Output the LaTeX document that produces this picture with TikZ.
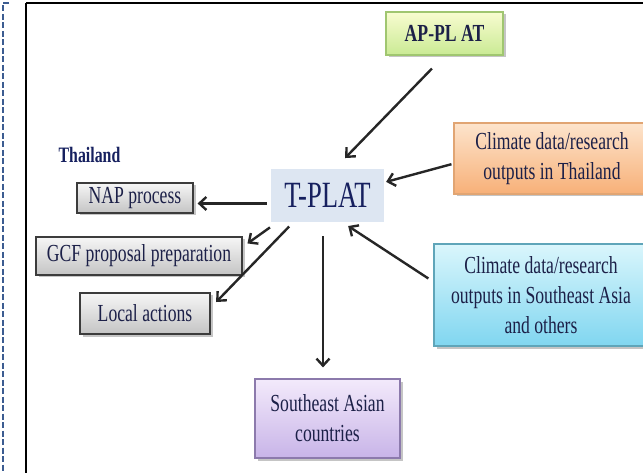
\documentclass[tikz,border=0pt]{standalone}
\usepackage{fontspec}
\setmainfont[FakeStretch=0.72]{Liberation Serif}
\usetikzlibrary{arrows.meta,shadows,calc}
\definecolor{txt}{RGB}{28,32,72}
\definecolor{navy}{RGB}{22,32,95}
\definecolor{dashblue}{RGB}{60,92,145}
\definecolor{tpfill}{RGB}{221,230,242}
\definecolor{gtop}{RGB}{246,246,246}
\definecolor{gbot}{RGB}{196,196,196}
\definecolor{gbord}{RGB}{60,60,60}
\definecolor{grtop}{RGB}{248,252,208}
\definecolor{grbot}{RGB}{202,234,148}
\definecolor{grbord}{RGB}{160,198,112}
\definecolor{ortop}{RGB}{253,228,204}
\definecolor{orbot}{RGB}{247,176,120}
\definecolor{orbord}{RGB}{225,165,115}
\definecolor{cytop}{RGB}{218,246,252}
\definecolor{cybot}{RGB}{128,214,240}
\definecolor{cybord}{RGB}{95,165,185}
\definecolor{putop}{RGB}{243,234,251}
\definecolor{pubot}{RGB}{200,180,232}
\definecolor{pubord}{RGB}{140,122,172}
\tikzset{
  lbl/.style={font=\fontsize{24.5}{30}\selectfont, text=txt, align=center, inner sep=0pt},
  boxbase/.style={lbl, line width=1.2pt, drop shadow={shadow xshift=2.5pt,shadow yshift=-2.5pt,opacity=0.45}},
  graybox/.style={boxbase, draw=gbord, top color=gtop, bottom color=gbot},
  greenbox/.style={boxbase, draw=grbord, top color=grtop, bottom color=grbot},
  orangebox/.style={boxbase, draw=orbord, top color=ortop, bottom color=orbot},
  cyanbox/.style={boxbase, draw=cybord, top color=cytop, bottom color=cybot},
  purplebox/.style={boxbase, draw=pubord, top color=putop, bottom color=pubot},
  arr/.style={-{Straight Barb[length=7pt,width=13pt,line width=2.4pt]}, line width=2.4pt, black!85}
}
\begin{document}
\begin{tikzpicture}[x=1pt,y=-1pt]
\useasboundingbox (0,0) rectangle (643,473);
\fill[white] (0,0) rectangle (643,473);
% borders
\draw[dashblue, line width=2.5pt, dash pattern=on 6pt off 2.5pt] (9,3) -- (3,3) -- (3,476);
\draw[black, line width=2pt] (26,3) -- (650,3);
\draw[black, line width=2pt] (26,3) -- (26,480);
% nodes
\node[lbl, font=\fontsize{22}{24}\selectfont\bfseries, text=navy] (th) at (89.5,155) {Thailand};
\node[lbl, fill=tpfill, minimum width=113pt, minimum height=53pt, font=\fontsize{37}{40}\selectfont, text=navy] (tp) at (327.5,195.5) {T-PLAT};
\node[greenbox, minimum width=117pt, minimum height=43pt, font=\fontsize{24.5}{26}\selectfont\bfseries] (ap) at (444.5,33.5) {AP-PL AT};
\node[orangebox, minimum width=196pt, minimum height=71pt] (or) at (552,158.5) {Climate data/research\\outputs in Thailand};
\node[cyanbox, minimum width=214pt, minimum height=102pt] (cy) at (541,295) {Climate data/research\\outputs in Southeast Asia\\and others};
\node[purplebox, minimum width=145pt, minimum height=79pt] (sea) at (327.5,418.5) {Southeast Asian\\countries};
\node[graybox, minimum width=116pt, minimum height=30pt] (nap) at (135,198) {NAP process};
\node[graybox, minimum width=206pt, minimum height=38pt] (gcf) at (139,256) {GCF proposal preparation};
\node[graybox, minimum width=130pt, minimum height=41pt] (loc) at (145,313.5) {Local actions};
% connectors
\draw[arr, shorten <=18pt, shorten >=15pt] (ap.south) -- (tp.75);
\draw[arr, shorten <=2pt, shorten >=2pt] (or.183) -- (tp.13);
\draw[arr, shorten <=6pt, shorten >=7pt] (cy.173) -- (tp.-61.5);
\draw[arr, shorten <=4pt, shorten >=4pt] (tp.188) -- (tp.188 -| nap.east);
\draw[arr, shorten <=9pt, shorten >=6pt] (tp.208) -- (gcf.5);
\draw[arr, shorten <=6pt, shorten >=8pt] (tp.218) -- (loc.5);
\draw[arr, shorten <=14pt, shorten >=11pt] ([xshift=-4.5pt]tp.south) -- ([xshift=-4.5pt]sea.north);
\end{tikzpicture}
\end{document}
